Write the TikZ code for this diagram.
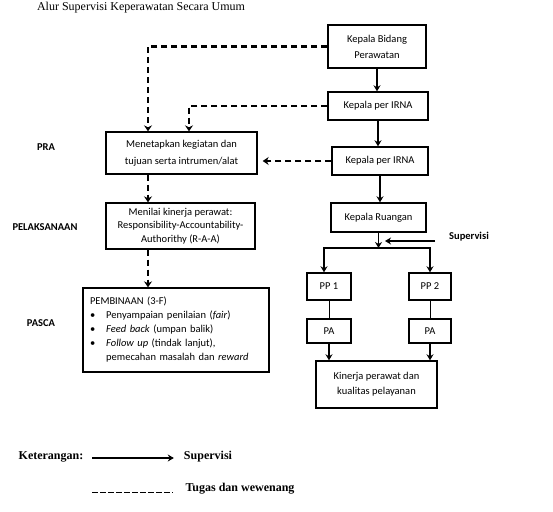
\documentclass[tikz,border=0pt]{standalone}
\usepackage{fontspec}
\setmainfont{Carlito}
\newfontfamily\timesfont{Liberation Serif}
\usetikzlibrary{arrows.meta}

\begin{document}
\begin{tikzpicture}[x=1pt, y=-1pt,
  every node/.style={inner sep=2pt, font=\fontsize{10.5}{14}\selectfont},
  box/.style={draw, line width=1.4pt, align=center},
  sup/.style={line width=1.4pt, -{Stealth[length=6pt,width=7pt]}},
  tugas/.style={line width=2.4pt, dash pattern=on 6pt off 4pt, -{Stealth[length=6pt,width=8pt]}},
  fase/.style={font=\fontsize{10.5}{12}\selectfont\bfseries},
  legenda/.style={font=\timesfont\bfseries\fontsize{12}{14}\selectfont}]
  \useasboundingbox (0,0) rectangle (553,511);
  \node [font=\timesfont\fontsize{12}{14}\selectfont] (judul) at (141,8) {Alur Supervisi Keperawatan Secara Umum};
  % kolom kanan
  \node [box, minimum width=98pt, minimum height=43pt, font=\fontsize{10.5}{16}\selectfont] (bidang) at (377,46.5) {Kepala Bidang\\Perawatan};
  \node [box, minimum width=100pt, minimum height=28pt] (irnaA) at (378,106) {Kepala per IRNA};
  \node [box, minimum width=96pt, minimum height=28pt] (irnaB) at (380,161) {Kepala per IRNA};
  \node [box, minimum width=95pt, minimum height=29pt] (ruangan) at (378.5,217.5) {Kepala Ruangan};
  \node [fase] (supervisi) at (469,237) {Supervisi};
  \coordinate (masuk) at (435,241);
  \coordinate (tiba) at (385,241);
  \coordinate (cabang) at (379,248);
  \node [box, minimum width=44pt, minimum height=27pt] (pp1) at (329,286.5) {PP 1};
  \node [box, minimum width=42pt, minimum height=27pt] (pp2) at (430,286.5) {PP 2};
  \node [box, minimum width=44pt, minimum height=24pt] (pa1) at (329,331) {PA};
  \node [box, minimum width=42pt, minimum height=24pt] (pa2) at (430,331) {PA};
  \node [box, minimum width=121pt, minimum height=47pt, font=\fontsize{10.5}{15}\selectfont] (kinerja) at (376.5,384.5) {Kinerja perawat dan\\kualitas pelayanan};
  % kolom kiri
  \node [fase] (pra) at (46,147) {PRA};
  \node [fase] (laksana) at (45,227) {PELAKSANAAN};
  \node [fase] (pasca) at (41,323) {PASCA};
  \node [box, minimum width=151pt, minimum height=42pt, font=\fontsize{10.5}{17}\selectfont] (tetapkan) at (181.5,153) {Menetapkan kegiatan dan\\tujuan serta intrumen/alat};
  \node [box, minimum width=149pt, minimum height=46pt, font=\fontsize{10.5}{13.5}\selectfont] (nilai) at (180.5,226) {Menilai kinerja perawat:\\Responsibility-Accountability-\\Authorithy (R-A-A)};
  \node [box, minimum width=186pt, minimum height=82pt, inner sep=7pt, text width=172pt, align=left] (bina) at (176,330) {%
    \begin{tabular}{@{}l@{\hspace{11pt}}l@{}}
      \multicolumn{2}{@{}l}{PEMBINAAN (3-F)}\\
      \textbullet & Penyampaian penilaian (\textit{fair})\\
      \textbullet & \textit{Feed back} (umpan balik)\\
      \textbullet & \textit{Follow up} (tindak lanjut),\\
      & pemecahan masalah dan \textit{reward}
    \end{tabular}};
  % garis supervisi
  \draw [sup] (bidang.south) -- (bidang.south |- irnaA.north);
  \draw [sup] (irnaA.south) -- (irnaA.south |- irnaB.north);
  \draw [sup] (irnaB.south) -- (irnaB.south |- ruangan.north);
  \draw [sup] (ruangan.south) -- (ruangan.south |- cabang);
  \draw [sup] (masuk) -- (tiba);
  \draw [sup] (cabang) -| ([xshift=-5pt]pp1.north);
  \draw [sup] (cabang) -| (pp2.north);
  \draw (pp1) -- (pa1);
  \draw (pp2) -- (pa2);
  \draw [sup] (pa1.south) -- (pa1.south |- kinerja.north);
  \draw [sup] (pa2.south) -- (pa2.south |- kinerja.north);
  % garis tugas dan wewenang
  \draw [tugas] (bidang.west) -| ([xshift=-33.5pt]tetapkan.north);
  \draw [tugas] (irnaA.west) -| ([xshift=7.5pt]tetapkan.north);
  \draw [tugas, shorten >=5pt] (irnaB.west) -- (irnaB.west -| tetapkan.east);
  \draw [tugas] ([xshift=-33.5pt]tetapkan.south) -- ([xshift=-32.5pt]nilai.north);
  \draw [tugas] ([xshift=-32.5pt]nilai.south) -- ([xshift=-28pt]bina.north);
  % keterangan
  \node [legenda] (ket) at (51,457) {Keterangan:};
  \node [legenda] (legsup) at (208,457) {Supervisi};
  \node [legenda] (legtugas) at (240,489) {Tugas dan wewenang};
  \coordinate (ketA) at (92,458);
  \coordinate (ketB) at (92,492);
  \draw [sup, shorten >=8pt] (ketA) -- (ketA -| legsup.west);
  \draw [line width=1pt, dash pattern=on 5.5pt off 2.5pt, shorten >=11pt] (ketB) -- (ketB -| legtugas.west);
\end{tikzpicture}
\end{document}
